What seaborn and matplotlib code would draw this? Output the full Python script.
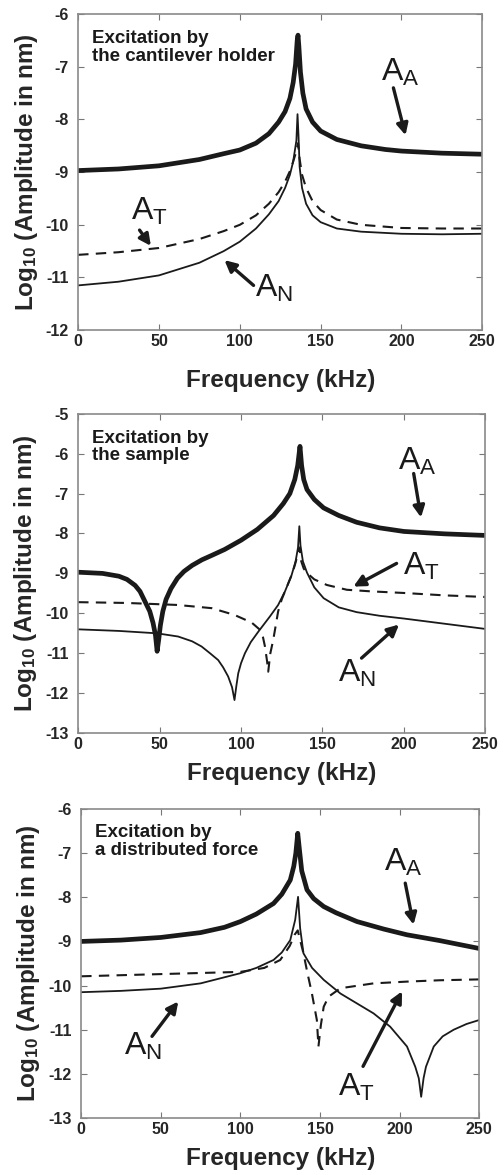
import numpy as np
import matplotlib
matplotlib.use("Agg")
import matplotlib.pyplot as plt
import seaborn as sns

# ---- panel 1: excitation by the cantilever holder ----
p1_aa_f = [0, 25, 50, 75, 90, 100, 110, 118, 124, 128, 131, 133, 134.5, 135.5, 136, 136.5, 137.5, 139, 141, 145, 150, 160, 175, 190, 200, 225, 250]
p1_aa_v = [-8.97, -8.94, -8.88, -8.76, -8.65, -8.58, -8.45, -8.27, -8.05, -7.85, -7.6, -7.3, -6.95, -6.5, -6.4, -6.6, -7.1, -7.5, -7.8, -8.05, -8.22, -8.38, -8.5, -8.57, -8.6, -8.64, -8.66]
p1_at_f = [0, 25, 50, 75, 90, 100, 110, 118, 124, 128, 131, 133, 135, 136, 137, 138.5, 141, 145, 150, 160, 175, 200, 225, 250]
p1_at_v = [-10.57, -10.52, -10.44, -10.27, -10.12, -10.0, -9.82, -9.6, -9.38, -9.18, -8.98, -8.8, -8.6, -8.45, -8.75, -9.05, -9.3, -9.55, -9.72, -9.9, -10.0, -10.06, -10.07, -10.07]
p1_an_f = [0, 25, 50, 75, 90, 100, 110, 118, 124, 128, 131, 133, 135, 135.7, 136.3, 137, 138.5, 141, 145, 150, 160, 175, 200, 225, 250]
p1_an_v = [-11.15, -11.08, -10.96, -10.72, -10.5, -10.32, -10.07, -9.8, -9.55, -9.3, -9.05, -8.8, -8.4, -7.9, -8.3, -8.9, -9.3, -9.6, -9.82, -9.95, -10.07, -10.13, -10.17, -10.18, -10.17]

# ---- panel 2: excitation by the sample ----
p2_aa_f = [0, 15, 25, 30, 35, 38, 41, 44, 46, 47.5, 48.5, 49.5, 50.5, 52, 54, 57, 61, 65, 70, 76, 82, 90, 100, 110, 120, 126, 130, 133, 134.8, 136.2, 137.2, 138.5, 140.5, 145, 150.7, 160, 171, 185, 200, 225, 250]
p2_aa_v = [-8.97, -9.0, -9.07, -9.15, -9.3, -9.45, -9.7, -9.95, -10.24, -10.55, -10.95, -10.65, -10.3, -9.95, -9.65, -9.38, -9.12, -8.95, -8.8, -8.66, -8.55, -8.4, -8.17, -7.9, -7.55, -7.25, -7.0, -6.65, -6.3, -5.82, -6.3, -6.65, -6.9, -7.15, -7.36, -7.55, -7.72, -7.86, -7.95, -8.01, -8.05]
p2_at_f = [0, 30, 61, 82, 96, 106.5, 111.6, 113.5, 114.7, 116, 116.7, 118, 119.8, 122.8, 125, 128, 131, 133, 135, 136, 137, 138.5, 140.5, 145, 152.7, 165, 180, 200, 225, 250]
p2_at_v = [-9.72, -9.74, -9.79, -9.87, -10.04, -10.23, -10.41, -10.6, -10.83, -11.2, -11.46, -11.0, -10.66, -9.95, -9.65, -9.35, -9.05, -8.8, -8.5, -8.35, -8.7, -8.88, -8.99, -9.15, -9.29, -9.41, -9.45, -9.49, -9.55, -9.59]
p2_an_f = [0, 25, 48.5, 61.4, 70, 75.8, 81, 86, 89, 92.1, 94.5, 96, 97.2, 98.3, 100, 102.4, 106, 110.6, 117.7, 122.8, 127, 131, 133.5, 135, 135.8, 136.5, 138, 140.5, 145, 150.7, 160, 171, 185, 200, 225, 250]
p2_an_v = [-10.4, -10.44, -10.5, -10.58, -10.7, -10.83, -11.0, -11.17, -11.35, -11.58, -11.85, -12.17, -11.8, -11.5, -11.25, -11.0, -10.72, -10.46, -10.08, -9.79, -9.45, -9.05, -8.7, -8.35, -7.82, -8.3, -8.7, -8.98, -9.35, -9.62, -9.85, -9.97, -10.06, -10.13, -10.26, -10.39]

# ---- panel 3: excitation by a distributed force ----
p3_aa_f = [0, 25, 50, 75, 90, 100, 110, 120.8, 126, 131.3, 133.5, 134.8, 136, 137, 138.5, 141.8, 146, 152.3, 160, 173.2, 190, 204.6, 225, 250]
p3_aa_v = [-9.0, -8.97, -8.91, -8.8, -8.68, -8.55, -8.38, -8.14, -7.93, -7.61, -7.3, -7.0, -6.55, -6.9, -7.4, -7.83, -8.03, -8.21, -8.35, -8.55, -8.72, -8.85, -8.98, -9.16]
p3_at_f = [0, 50, 100, 115, 125, 131, 134, 136, 137, 139.6, 142, 144.9, 148, 149, 150.5, 152.3, 155.4, 162.8, 183.6, 204.6, 225, 250]
p3_at_v = [-9.79, -9.74, -9.69, -9.6, -9.42, -9.1, -8.85, -8.75, -8.9, -9.27, -9.7, -10.18, -10.78, -11.38, -10.9, -10.48, -10.25, -10.06, -9.95, -9.91, -9.88, -9.86]
p3_an_f = [0, 25, 50, 75, 100, 110, 120.8, 126, 131.3, 134.4, 136.2, 137.5, 139.6, 145, 152.3, 162.8, 183.6, 194, 204.6, 209.8, 212, 213.5, 215, 216.5, 221.4, 227, 233.9, 242, 250]
p3_an_v = [-10.15, -10.12, -10.07, -9.95, -9.72, -9.6, -9.42, -9.25, -8.97, -8.51, -7.99, -8.7, -9.27, -9.6, -9.87, -10.18, -10.63, -10.93, -11.38, -11.84, -12.1, -12.52, -12.1, -11.84, -11.38, -11.15, -11.0, -10.87, -10.78]

freq_ticks = [0, 50, 100, 150, 200, 250]
panel_titles = ["Excitation by\nthe cantilever holder", "Excitation by\nthe sample", "Excitation by\na distributed force"]
panel_ylims = [(-12, -6), (-13, -5), (-13, -6)]

sns.set_style("ticks")
plt.rcParams["font.family"] = ["Liberation Sans", "DejaVu Sans"]
plt.rcParams["axes.unicode_minus"] = False
plt.rcParams["mathtext.default"] = "regular"

ink = "#1a1a1a"
fig = plt.figure(figsize=(5.04, 11.75), dpi=100)
boxes = [[0.155, 0.719, 0.802, 0.269],
         [0.155, 0.376, 0.808, 0.272],
         [0.161, 0.0485, 0.790, 0.263]]
xlabel_pads = [14, 7, 7]


def draw_curves(ax, aa, at, an):
    sns.lineplot(x=aa[0], y=aa[1], ax=ax, color=ink, lw=3.4, estimator=None)
    sns.lineplot(x=at[0], y=at[1], ax=ax, color=ink, lw=1.5, estimator=None)
    ax.lines[-1].set_dashes([5, 3.5])
    sns.lineplot(x=an[0], y=an[1], ax=ax, color=ink, lw=1.3, estimator=None)


def label(ax, txt, sub, xy_text, xy_tail, xy_head):
    ax.text(xy_text[0], xy_text[1], txt + "$_{" + sub + "}$", fontsize=23,
            ha="center", va="center", color=ink)
    ax.annotate("", xy=xy_head, xytext=xy_tail,
                arrowprops=dict(arrowstyle="-|>", color=ink, lw=2.4,
                                mutation_scale=17, shrinkA=0, shrinkB=0))


axes = []
for i, box in enumerate(boxes):
    ax = fig.add_axes(box)
    axes.append(ax)
    ax.set_xlim(0, 250)
    ax.set_ylim(*panel_ylims[i])
    ax.set_xticks(freq_ticks)
    ax.set_yticks(np.arange(panel_ylims[i][0], panel_ylims[i][1] + 1))
    ax.tick_params(direction="in", top=True, right=True, length=4, color="#777777",
                   labelsize=11.5)
    ax.tick_params(axis="y", pad=7)
    ax.tick_params(axis="x", pad=3)
    for lab in ax.get_xticklabels() + ax.get_yticklabels():
        lab.set_fontweight("bold")
    for s in ax.spines.values():
        s.set_color("#8a8a8a")
        s.set_linewidth(1.2)
    ax.set_xlabel("Frequency (kHz)", fontsize=17.5, fontweight="bold", labelpad=xlabel_pads[i])
    ax.set_ylabel("Log$_{10}$ (Amplitude in nm)", fontsize=17.5, fontweight="bold", labelpad=4)
    ax.text(0.035, 0.95, panel_titles[i], transform=ax.transAxes, fontsize=13.5,
            fontweight="bold", va="top", ha="left", color=ink, linespacing=1.05)

draw_curves(axes[0], (p1_aa_f, p1_aa_v), (p1_at_f, p1_at_v), (p1_an_f, p1_an_v))
label(axes[0], "A", "A", (199, -7.1), (195, -7.4), (202.5, -8.3))
label(axes[0], "A", "T", (44, -9.75), (38, -10.1), (45, -10.4))
label(axes[0], "A", "N", (121, -11.2), (108.5, -11.15), (90.5, -10.67))

draw_curves(axes[1], (p2_aa_f, p2_aa_v), (p2_at_f, p2_at_v), (p2_an_f, p2_an_v))
label(axes[1], "A", "A", (208, -6.2), (206, -6.5), (210.5, -7.6))
label(axes[1], "A", "T", (211, -8.82), (195.5, -8.75), (169, -9.33))
label(axes[1], "A", "N", (171, -11.5), (174, -11.12), (197, -10.28))

draw_curves(axes[2], (p3_aa_f, p3_aa_v), (p3_at_f, p3_at_v), (p3_an_f, p3_an_v))
label(axes[2], "A", "A", (202.5, -7.22), (203.5, -7.68), (208.7, -8.62))
label(axes[2], "A", "N", (39, -11.38), (44.5, -11.15), (61, -10.36))
label(axes[2], "A", "T", (173, -12.3), (177, -11.83), (201.5, -10.13))

fig.savefig("out.png", dpi=100)
